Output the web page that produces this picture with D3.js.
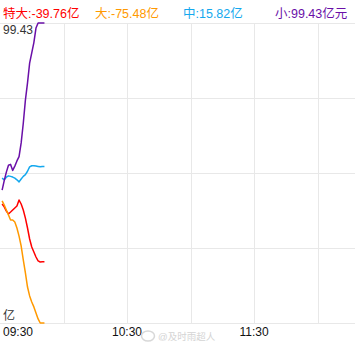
<!DOCTYPE html>
<html><head><meta charset="utf-8">
<script src="https://cdn.jsdelivr.net/npm/d3@7"></script>
<style>
html,body{margin:0;padding:0;background:#fff;}
svg{display:block;font-family:"Liberation Sans",Arial,"Noto Sans CJK SC",sans-serif;}
</style></head><body>
<svg id="c" width="355" height="349"></svg>
<script>
// minutes after 09:30
const minutes = d3.range(1, 22);
const superLarge = [-6.1,-7.8,-10.2,-11.9,-10.8,-9.6,-8.4,-7.3,-3.8,-6.1,-9.6,-14.3,-20.1,-26.5,-31.2,-34.1,-37.0,-39.3,-39.9,-39.76,-39.76];
const large = [-4.3,-6.7,-9.6,-12.5,-15.4,-15.4,-16.6,-20.1,-24.8,-30.6,-38.7,-46.3,-54.5,-59.7,-63.2,-66.1,-69.6,-73.1,-75.48,-75.48,-75.48];
const medium = [9.0,8.0,9.5,10.3,10.0,9.6,9.0,8.0,6.8,8.5,10.0,11.0,13.0,15.5,16.2,16.2,16.0,15.8,15.6,15.8,15.82];
const small = [2.0,7.5,12.5,16.5,17.0,13.5,16.0,19.0,21.5,29.5,41.0,54.5,64.5,76.0,82.0,88.0,96.5,99.43,99.43,99.43,99.43];
const seriesNames = ["特大","大","中","小"];
const seriesLast = ["-39.76亿","-75.48亿","15.82亿","99.43亿元"];
const timeTicks = [0, 60, 120];
const timeLabels = ["09:30","10:30","11:30"];
const gridMinutes = [30, 60, 90, 120, 150];
const yMax = 99.43, yMin = -75.48;

const colors = ["#ff0000","#ff9900","#14a8ee","#6a0fa8"];
const svg = d3.select("#c");
const W = 355, plotTop = 23, plotBottom = 323;
const x = d3.scaleLinear().domain([0, 240]).range([0, 508]);
const y = d3.scaleLinear().domain([yMin, yMax]).range([plotBottom, plotTop]);
const grid = "#e8e8e8";

// horizontal grid (evenly spaced)
d3.range(5).forEach(i => {
  const yy = plotTop + (plotBottom - plotTop) * i / 4;
  svg.append("line").attr("x1",0).attr("x2",W).attr("y1",yy+0.5).attr("y2",yy+0.5)
    .attr("stroke",grid).attr("stroke-width",1);
});
gridMinutes.forEach(m => {
  svg.append("line").attr("x1",Math.round(x(m))+0.5).attr("x2",Math.round(x(m))+0.5)
    .attr("y1",plotTop).attr("y2",plotBottom).attr("stroke",grid).attr("stroke-width",1);
});

// header legend
const hx = [3, 95, 183, 275];
seriesNames.forEach((n,i) => {
  svg.append("text").attr("x",hx[i]).attr("y",18).attr("font-size",12.5)
    .attr("fill",colors[i]).text(n + ":" + seriesLast[i]);
});

// axis labels
svg.append("text").attr("x",3).attr("y",34).attr("font-size",12).attr("fill","#333").text(yMax.toFixed(2));
svg.append("text").attr("x",3).attr("y",320).attr("font-size",12).attr("fill","#333").text("亿");
timeTicks.forEach((t,i) => {
  svg.append("text").attr("x", i === 0 ? 3 : x(t)).attr("y",336)
    .attr("text-anchor", i === 0 ? "start" : "middle")
    .attr("font-size",12).attr("fill","#111").text(timeLabels[i]);
});

// watermark
svg.append("ellipse").attr("cx",148).attr("cy",336).attr("rx",6.5).attr("ry",5)
  .attr("fill","none").attr("stroke","#d8d8d8").attr("stroke-width",1.5);
svg.append("text").attr("x",158).attr("y",340).attr("font-size",9.5)
  .attr("fill","#d4d4d4").text("@及时雨超人");

const line = d3.line().x((d,i) => x(minutes[i])).y(d => y(d));
[superLarge, large, medium, small].forEach((s,i) => {
  svg.append("path").datum(s).attr("d", line).attr("fill","none")
    .attr("stroke",colors[i]).attr("stroke-width",1.5).attr("stroke-linejoin","round");
});
</script></body></html>
